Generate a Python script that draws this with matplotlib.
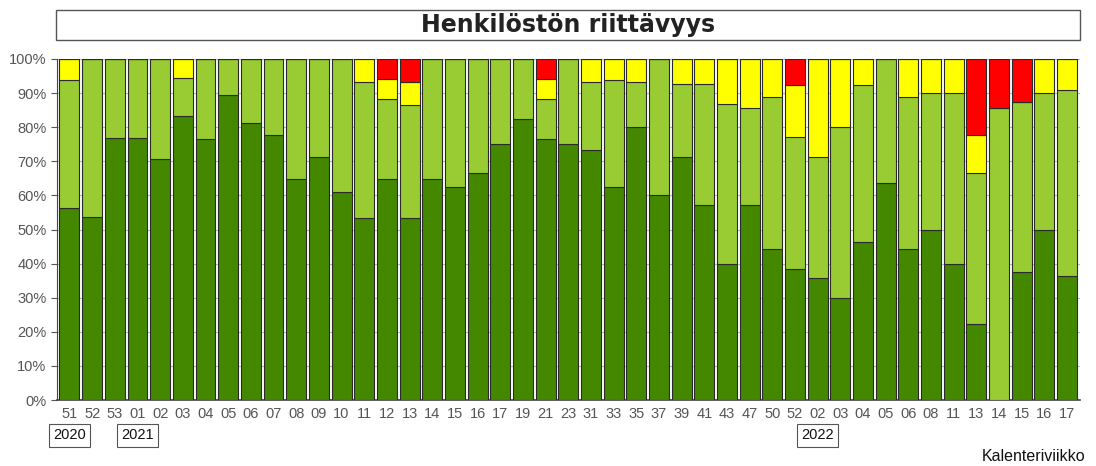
#!/usr/bin/env python3

import numpy as np
import matplotlib
matplotlib.use('Agg')
import matplotlib.pyplot as plt
from matplotlib.patches import Rectangle

# calendar weeks on the x axis
weeks = ['51', '52', '53', '01', '02', '03', '04', '05', '06', '07', '08', '09', '10',
         '11', '12', '13', '14', '15', '16', '17', '19', '21', '23',
         '31', '33', '35', '37', '39', '41', '43', '47', '50', '52',
         '02', '03', '04', '05', '06', '08', '11', '13', '14', '15', '16', '17']

# shares in percent, stacked bottom to top
dark_green = [56.25, 53.8, 76.9, 76.9, 70.6, 83.3, 76.5, 89.5, 81.25, 77.8, 64.7, 71.4, 61.1,
              53.3, 64.7, 53.3, 64.7, 62.5, 66.7, 75.0, 82.4, 76.5, 75.0,
              73.3, 62.5, 80.0, 60.0, 71.4, 57.1, 40.0, 57.1, 44.4, 38.5,
              35.7, 30.0, 46.2, 63.6, 44.4, 50.0, 40.0, 22.2, 0.0, 37.5, 50.0, 36.4]
light_green = [37.5, 46.2, 23.1, 23.1, 29.4, 11.1, 23.5, 10.5, 18.75, 22.2, 35.3, 28.6, 38.9,
               40.0, 23.5, 33.3, 35.3, 37.5, 33.3, 25.0, 17.6, 11.8, 25.0,
               20.0, 31.25, 13.3, 40.0, 21.4, 35.7, 46.7, 28.6, 44.4, 38.5,
               35.7, 50.0, 46.2, 36.4, 44.4, 40.0, 50.0, 44.4, 85.7, 50.0, 40.0, 54.5]
yellow = [6.25, 0, 0, 0, 0, 5.6, 0, 0, 0, 0, 0, 0, 0,
          6.7, 5.9, 6.7, 0, 0, 0, 0, 0, 5.9, 0,
          6.7, 6.25, 6.7, 0, 7.1, 7.1, 13.3, 14.3, 11.1, 15.4,
          28.6, 20.0, 7.7, 0, 11.1, 10.0, 10.0, 11.1, 0, 0, 10.0, 9.1]
red = [0, 0, 0, 0, 0, 0, 0, 0, 0, 0, 0, 0, 0,
       0, 5.9, 6.7, 0, 0, 0, 0, 0, 5.9, 0,
       0, 0, 0, 0, 0, 0, 0, 0, 0, 7.7,
       0, 0, 0, 0, 0, 0, 0, 22.2, 14.3, 12.5, 0, 0]

# year labels: (index of week, year)
year_marks = [(0, '2020'), (3, '2021'), (33, '2022')]

title = 'Henkilöstön riittävyys'
xlabel = 'Kalenteriviikko'

plt.rcParams['font.family'] = ['Liberation Sans', 'DejaVu Sans']

fig = plt.figure(figsize=(10.96, 4.66), dpi=100)
ax = fig.add_axes([0.052, 0.1416, 0.933, 0.7318])

x = np.arange(len(weeks))
series = [(dark_green, '#448800'), (light_green, '#99CC33'), (yellow, '#FFFF00'), (red, '#FF0000')]
bottom = np.zeros(len(weeks))
for vals, col in series:
    vals = np.array(vals, dtype=float)
    ax.bar(x, vals, 0.88, bottom=bottom, color=col, edgecolor='#2a2a2a', linewidth=0.8, zorder=3)
    bottom += vals

ax.set_xlim(-0.55, len(weeks) - 0.45)
ax.set_ylim(0, 100)
ax.set_yticks(np.arange(0, 101, 10))
ax.set_yticklabels([f'{v}%' for v in range(0, 101, 10)])
ax.set_xticks(x)
ax.set_xticklabels(weeks)
ax.tick_params(axis='both', colors='#555555', labelsize=10.5, length=4)
ax.tick_params(axis='x', length=0, pad=5)
ax.grid(axis='y', color='#bbbbbb', linewidth=0.8, zorder=0)
for s in ['top', 'right']:
    ax.spines[s].set_visible(False)
ax.spines['left'].set_color('#444444')
ax.spines['bottom'].set_color('#444444')
ax.spines['bottom'].set_linewidth(1.2)

for idx, yr in year_marks:
    ax.annotate(yr, xy=(idx, 0), xycoords=('data', 'axes fraction'), xytext=(0, -25.5),
                textcoords='offset points', ha='center', va='center', fontsize=10.5,
                color='#111111',
                bbox=dict(boxstyle='square,pad=0.3', fc='white', ec='#555555', lw=0.8))

fig.text(0.99, 0.005, xlabel, ha='right', va='bottom', fontsize=11.5, color='#111111')

# title box
fig.patches.append(Rectangle((0.051, 1 - 40 / 466), 0.934, 30 / 466, transform=fig.transFigure,
                             fc='white', ec='#555555', lw=1.0))
fig.text(0.518, 1 - 25 / 466, title, ha='center', va='center', fontsize=17,
         fontweight='bold', family='DejaVu Sans', color='#222222')

fig.savefig('out.png', dpi=100)
